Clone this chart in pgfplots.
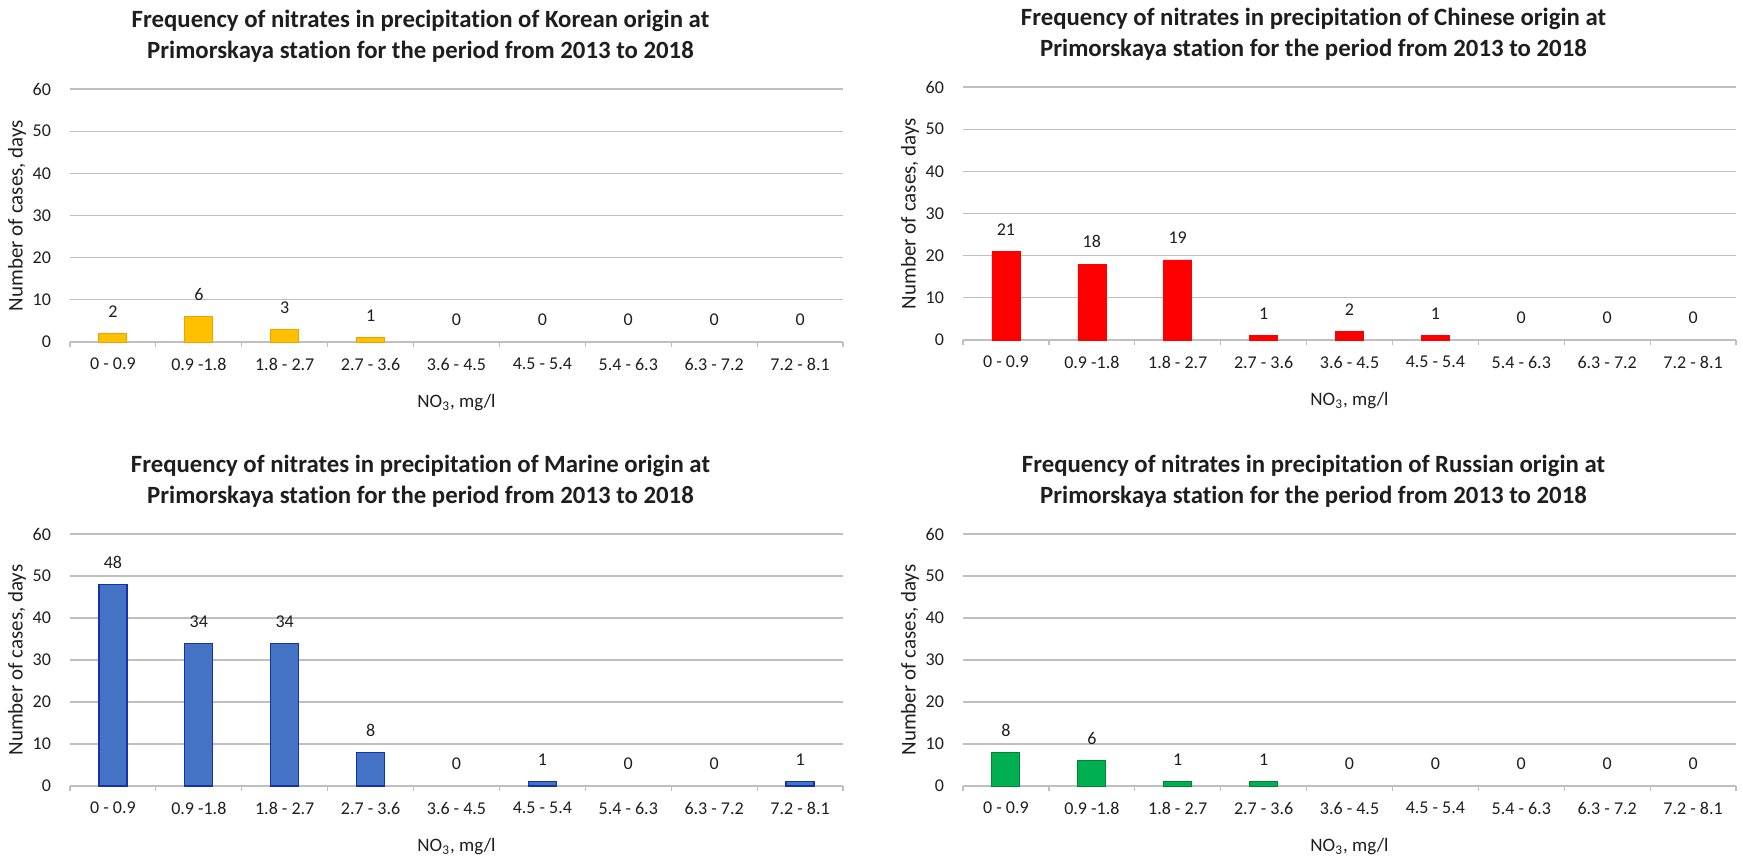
\documentclass[border=0pt]{standalone}
\usepackage{pgfplots}
\pgfplotsset{compat=1.18}
\usepackage{pgfplotstable}
\usepackage{fontspec}
\setmainfont{Carlito}[Ligatures=NoCommon]

\definecolor{gridgray}{RGB}{191,191,191}
\definecolor{txt}{RGB}{30,30,30}
\definecolor{korfill}{RGB}{255,192,0}
\definecolor{koredge}{RGB}{240,160,0}
\definecolor{chnfill}{RGB}{255,0,0}
\definecolor{marfill}{RGB}{68,114,196}
\definecolor{maredge}{RGB}{20,50,170}
\definecolor{rusfill}{RGB}{0,176,80}
\definecolor{rusedge}{RGB}{0,130,55}

% counts per NO3 class, classes 0..8
\pgfplotstableread{
x n
0 2
1 6
2 3
3 1
4 0
5 0
6 0
7 0
8 0
}\korean
\pgfplotstableread{
x n
0 21
1 18
2 19
3 1
4 2
5 1
6 0
7 0
8 0
}\chinese
\pgfplotstableread{
x n
0 48
1 34
2 34
3 8
4 0
5 1
6 0
7 0
8 1
}\marine
\pgfplotstableread{
x n
0 8
1 6
2 1
3 1
4 0
5 0
6 0
7 0
8 0
}\russian

\pgfplotsset{
  panel/.style={
    scale only axis, width=386.5pt, anchor=south west,
    ybar, bar width=14pt,
    xmin=-0.5, xmax=8.5, ymin=0, ymax=60,
    ytick={0,10,...,60},
    xtick={0,...,8},
    xticklabels={0 - 0.9, 0.9 -1.8, 1.8 - 2.7, 2.7 - 3.6, 3.6 - 4.5, 4.5 - 5.4, 5.4 - 6.3, 6.3 - 7.2, 7.2 - 8.1},
    minor xtick={-0.5,0.5,...,8.5},
    xtick align=outside, major tick length=0pt, minor tick length=2.5pt,
    minor tick style={gridgray, line width=0.6pt},
    axis x line*=bottom, axis y line*=left,
    y axis line style={draw=none},
    x axis line style={gridgray, line width=0.6pt},
    ymajorgrids, major grid style={gridgray, line width=0.6pt},
    /pgf/number format/assume math mode=true,
    tick label style={font=\fontsize{9}{10}\selectfont, text=txt},
    xticklabel style={anchor=center, yshift=-11pt},
    yticklabel style={anchor=east, xshift=-6pt},
    title style={font=\bfseries\fontsize{12.4}{15.5}\selectfont, text=txt, align=center,
      at={(0.4534,1)}, anchor=south, yshift=7pt, inner sep=0pt},
    xlabel={NO\textsubscript{3}, mg/l},
    xlabel style={font=\fontsize{9.5}{11}\selectfont, text=txt,
      at={(axis description cs:0.5,-0.241)}, anchor=center},
    ylabel={Number of cases, days},
    ylabel style={font=\fontsize{10.5}{12}\selectfont, text=txt,
      at={(axis description cs:-0.0686,0.5)}, anchor=center},
    nodes near coords,
    every node near coord/.append style={font=\fontsize{9}{10}\selectfont, text=txt, yshift=4.5pt},
  },
  bars/.style={bar shift=0pt, nodes near coords={}, restrict y to domain=0.5:100},
  labels/.style={bar shift=0pt, draw=none, fill=none},
}

\begin{document}
\begin{tikzpicture}
\useasboundingbox (0,0) rectangle (871.5pt,429.5pt);

\begin{axis}[panel, height=126.5pt, at={(35pt,258.5pt)},
  title={Frequency of nitrates in precipitation of Korean origin at\\Primorskaya station for the period from 2013 to 2018}]
\addplot[bars, fill=korfill, draw=koredge, line width=0.5pt] table[x=x,y=n] {\korean};
\addplot[labels] table[x=x,y=n] {\korean};
\end{axis}

\begin{axis}[panel, height=126.5pt, at={(481.5pt,259.5pt)},
  title={Frequency of nitrates in precipitation of Chinese origin at\\Primorskaya station for the period from 2013 to 2018}]
\addplot[bars, fill=chnfill, draw=chnfill, line width=0.3pt] table[x=x,y=n] {\chinese};
\addplot[labels] table[x=x,y=n] {\chinese};
\end{axis}

\begin{axis}[panel, height=126pt, at={(35pt,36.5pt)},
  title={Frequency of nitrates in precipitation of Marine origin at\\Primorskaya station for the period from 2013 to 2018}]
\addplot[bars, fill=marfill, draw=maredge, line width=0.6pt] table[x=x,y=n] {\marine};
\addplot[labels] table[x=x,y=n] {\marine};
\end{axis}

\begin{axis}[panel, height=126pt, at={(481.5pt,36.5pt)},
  title={Frequency of nitrates in precipitation of Russian origin at\\Primorskaya station for the period from 2013 to 2018}]
\addplot[bars, fill=rusfill, draw=rusedge, line width=0.5pt] table[x=x,y=n] {\russian};
\addplot[labels] table[x=x,y=n] {\russian};
\end{axis}
\end{tikzpicture}
\end{document}
